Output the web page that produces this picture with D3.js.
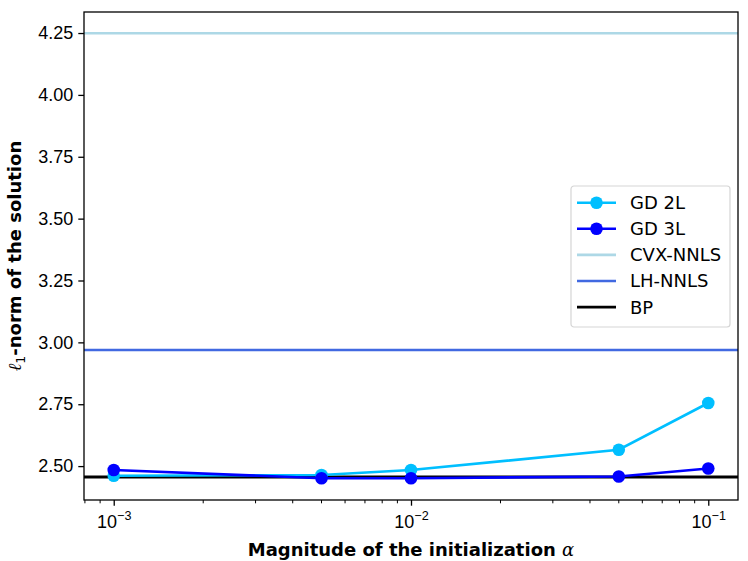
<!DOCTYPE html>
<html>
<head>
<meta charset="utf-8">
<script src="https://cdn.jsdelivr.net/npm/d3@7"></script>
<style>
  body { margin: 0; background: #fff; }
  svg { font-family: "DejaVu Sans", sans-serif; }
</style>
</head>
<body>
<svg id="chart" width="748" height="561"></svg>
<script>
// data
let alphas = [1e-3, 5e-3, 1e-2, 5e-2, 1e-1];
let gd2L = [2.461, 2.464, 2.484, 2.566, 2.755];
let gd3L = [2.484, 2.451, 2.451, 2.458, 2.490];
let cvxNnls = 4.249;
let lhNnls = 2.969;
let bp = 2.456;
let yTicks = [2.50, 2.75, 3.00, 3.25, 3.50, 3.75, 4.00, 4.25];
let xTicks = [1e-3, 1e-2, 1e-1];

let series = [
  { name: "GD 2L", color: "#00bfff", values: gd2L },
  { name: "GD 3L", color: "#0000ff", values: gd3L }
];
let refLines = [
  { name: "CVX-NNLS", color: "#add8e6", value: cvxNnls, width: 2.6 },
  { name: "LH-NNLS", color: "#4169e1", value: lhNnls, width: 2.6 },
  { name: "BP", color: "#000000", value: bp, width: 3.2 }
];

let plotLeft = 84, plotRight = 738, plotTop = 12, plotBottom = 500;
let fontSize = 18;

let x = d3.scaleLog()
  .domain([Math.pow(10, -3.1), Math.pow(10, -0.9)])
  .range([plotLeft, plotRight]);
let y = d3.scaleLinear()
  .domain([2.363, 4.335])
  .range([plotBottom, plotTop]);

let svg = d3.select("#chart");

// minor ticks on the log axis
let minor = [];
for (let e = -4; e <= -1; e++) {
  for (let k = 2; k <= 9; k++) {
    let v = k * Math.pow(10, e);
    if (v >= x.domain()[0] && v <= x.domain()[1]) minor.push(v);
  }
}
svg.append("g")
  .selectAll(".minor")
  .data(minor)
  .enter()
  .append("line")
  .attr("class", "minor")
  .attr("x1", d => x(d))
  .attr("x2", d => x(d))
  .attr("y1", plotBottom)
  .attr("y2", plotBottom + 3.3)
  .attr("stroke", "#000")
  .attr("stroke-width", 1)
;

// x axis
let xAxis = svg.append("g")
  .attr("transform", `translate(0,${plotBottom})`)
  .call(d3.axisBottom(x).tickValues(xTicks).tickSize(5.7).tickPadding(6).tickFormat(""))
;
xAxis.select(".domain").remove();
xAxis.selectAll("line").attr("stroke-width", 1.3);
xAxis.selectAll(".tick").append("text")
  .attr("fill", "#000")
  .attr("y", 27.5)
  .attr("text-anchor", "middle")
  .style("font-size", fontSize + "px")
  .each(function (d) {
    let t = d3.select(this);
    t.append("tspan").text("10");
    t.append("tspan")
      .attr("dy", -7.5)
      .style("font-size", "12.6px")
      .text("\u2212" + Math.round(-Math.log10(d)));
  })
;

// y axis
let yAxis = svg.append("g")
  .attr("transform", `translate(${plotLeft},0)`)
  .call(d3.axisLeft(y).tickValues(yTicks).tickSize(5.7).tickPadding(5).tickFormat(d3.format(".2f")))
;
yAxis.select(".domain").remove();
yAxis.selectAll("line").attr("stroke-width", 1.3);
yAxis.selectAll("text")
  .style("font-size", fontSize + "px")
  .attr("fill", "#000")
;

// reference lines
svg.append("g")
  .selectAll(".ref-line")
  .data(refLines)
  .enter()
  .append("line")
  .attr("class", "ref-line")
  .attr("x1", plotLeft)
  .attr("x2", plotRight)
  .attr("y1", d => y(d.value))
  .attr("y2", d => y(d.value))
  .attr("stroke", d => d.color)
  .attr("stroke-width", d => d.width)
;

// series
let line = d3.line()
  .x((d, i) => x(alphas[i]))
  .y(d => y(d))
;
let sg = svg.append("g")
  .selectAll(".series")
  .data(series)
  .enter()
  .append("g")
  .attr("class", "series");
sg.append("path")
  .attr("d", s => line(s.values))
  .attr("fill", "none")
  .attr("stroke", s => s.color)
  .attr("stroke-width", 2.6)
;
sg.selectAll("circle")
  .data(s => s.values.map((v, i) => ({ v: v, a: alphas[i], color: s.color })))
  .enter()
  .append("circle")
  .attr("cx", d => x(d.a))
  .attr("cy", d => y(d.v))
  .attr("r", 6.3)
  .attr("fill", d => d.color)
;

// frame
svg.append("rect")
  .attr("x", plotLeft)
  .attr("y", plotTop)
  .attr("width", plotRight - plotLeft)
  .attr("height", plotBottom - plotTop)
  .attr("fill", "none")
  .attr("stroke", "#000")
  .attr("stroke-width", 1.3)
;

// legend
let legendItems = series.map(s => ({ name: s.name, color: s.color, marker: true }))
  .concat(refLines.map(r => ({ name: r.name, color: r.color, marker: false })));
let lg = svg.append("g").attr("transform", "translate(571,186)");
lg.append("rect")
  .attr("width", 159)
  .attr("height", 141)
  .attr("rx", 3)
  .attr("fill", "#fff")
  .attr("fill-opacity", 0.8)
  .attr("stroke", "#d5d5d5")
  .attr("stroke-width", 1.2)
;
let li = lg.selectAll(".legend-item")
  .data(legendItems)
  .enter()
  .append("g")
  .attr("class", "legend-item")
  .attr("transform", (d, i) => `translate(0,${16.7 + i * 26.1})`);
li.append("line")
  .attr("x1", 6)
  .attr("x2", 45)
  .attr("stroke", d => d.color)
  .attr("stroke-width", 2.6)
;
li.filter(d => d.marker)
  .append("circle")
  .attr("cx", 25.5)
  .attr("r", 6.3)
  .attr("fill", d => d.color)
;
li.append("text")
  .attr("x", 59)
  .attr("dy", "0.36em")
  .style("font-size", fontSize + "px")
  .text(d => d.name)
;

// axis labels
svg.append("text")
  .attr("x", (plotLeft + plotRight) / 2)
  .attr("y", 556)
  .attr("text-anchor", "middle")
  .style("font-size", fontSize + "px")
  .style("font-weight", "bold")
  .call(t => {
    t.append("tspan").text("Magnitude of the initialization ");
    t.append("tspan")
      .style("font-family", "'DejaVu Serif', serif")
      .style("font-style", "italic")
      .style("font-weight", "normal")
      .text("\u03b1");
  })
;
svg.append("text")
  .attr("transform", `translate(21,${(plotTop + plotBottom) / 2}) rotate(-90)`)
  .attr("text-anchor", "middle")
  .style("font-size", fontSize + "px")
  .style("font-weight", "bold")
  .call(t => {
    t.append("tspan")
      .style("font-family", "'DejaVu Serif', serif")
      .style("font-style", "italic")
      .style("font-weight", "normal")
      .text("\u2113");
    t.append("tspan")
      .attr("dy", 4)
      .style("font-size", "12.6px")
      .style("font-weight", "normal")
      .text("1");
    t.append("tspan")
      .attr("dy", -4)
      .text("-norm of the solution");
  })
;
</script>
</body>
</html>
